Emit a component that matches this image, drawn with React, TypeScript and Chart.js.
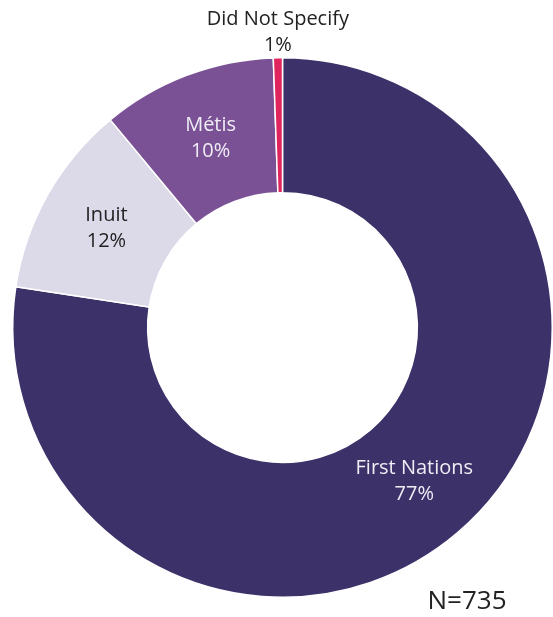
import React, { useEffect, useRef } from "react";
import { Chart, registerables } from "chart.js";

Chart.register(...registerables);

const categories = ["First Nations", "Inuit", "Métis", "Did Not Specify"];
const counts = [569, 85, 77, 4];
const colors = ["#3d3169", "#dcd9e9", "#7b5196", "#e0245e"];
const labelColors = ["#efedf5", "#222222", "#efedf5", "#222222"];
const totalLabel = "N=735";

const FONT = "'Open Sans', 'Noto Sans', sans-serif";

const labelPlugin = {
  id: "sliceLabels",
  afterDraw(chart: any) {
    const ctx = chart.ctx;
    const meta = chart.getDatasetMeta(0);
    const data = chart.data.datasets[0].data as number[];
    const total = data.reduce((a, b) => a + b, 0);
    ctx.save();
    ctx.font = `20px ${FONT}`;
    ctx.textAlign = "center";
    ctx.textBaseline = "middle";
    meta.data.forEach((arc: any, i: number) => {
      const pct = Math.round((data[i] / total) * 100) + "%";
      ctx.fillStyle = labelColors[i];
      const share = data[i] / total;
      if (share > 0.03) {
        const p = arc.getCenterPoint();
        ctx.fillText(categories[i], p.x, p.y - 13);
        ctx.fillText(pct, p.x, p.y + 13);
      } else {
        const props = arc.getProps(["x", "y", "startAngle", "endAngle", "outerRadius"], true);
        const mid = (props.startAngle + props.endAngle) / 2;
        const x = props.x + Math.cos(mid) * props.outerRadius;
        const y = props.y + Math.sin(mid) * props.outerRadius;
        ctx.fillText(pct, x, y - 12);
        ctx.fillText(categories[i], x, y - 38);
      }
    });
    ctx.font = `26px ${FONT}`;
    ctx.fillStyle = "#222222";
    ctx.fillText(totalLabel, 467, 602);
    ctx.restore();
  },
};

export default function App() {
  const ref = useRef<HTMLCanvasElement | null>(null);
  useEffect(() => {
    if (!ref.current) return;
    const chart = new Chart(ref.current, {
      type: "doughnut",
      data: {
        labels: categories,
        datasets: [
          {
            data: counts,
            backgroundColor: colors,
            borderColor: "#ffffff",
            borderWidth: 1.5,
          },
        ],
      },
      options: {
        animation: false,
        responsive: true,
        maintainAspectRatio: false,
        cutout: "50%",
        layout: { padding: { left: 12, right: 0, top: 55, bottom: 17 } },
        plugins: {
          legend: { display: false },
          tooltip: { enabled: false },
        },
      },
      plugins: [labelPlugin],
    });
    return () => chart.destroy();
  }, []);
  return (
    <div style={{ position: "absolute", left: 0, top: 0, width: 553, height: 617, background: "#fff" }}>
      <canvas ref={ref} />
    </div>
  );
}
